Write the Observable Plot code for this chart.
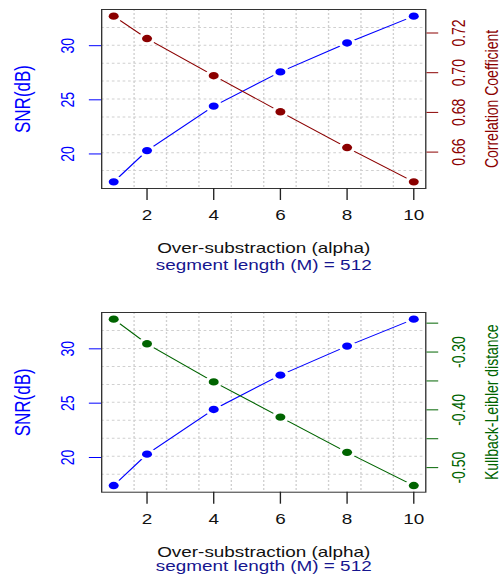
<!DOCTYPE html>
<html><head><meta charset="utf-8">
<script src="https://cdn.jsdelivr.net/npm/d3@7"></script>
<script src="https://cdn.jsdelivr.net/npm/@observablehq/plot@0.6"></script>
<style>html,body{margin:0;padding:0;background:#fff;overflow:hidden;} #c svg{display:block;}</style>
</head><body><div id="c"></div>
<script>
// ---- data ----
const alpha = [1, 2, 4, 6, 8, 10];
const snr = [17.42, 20.31, 24.42, 27.58, 30.25, 32.73];
const corr = [0.7285, 0.7172, 0.6985, 0.6803, 0.6623, 0.6450];
const kl = [-0.2431, -0.2857, -0.3517, -0.4126, -0.4736, -0.5310];
const xTicks = [2, 4, 6, 8, 10];
const snrTicks = [20, 25, 30];
const corrTicks = [0.66, 0.68, 0.70, 0.72];
const corrTickLabels = ["0.66", "0.68", "0.70", "0.72"];
const klTicks = [-0.25, -0.30, -0.35, -0.40, -0.45, -0.50];
const klTickLabels = ["", "-0.30", "", "-0.40", "", "-0.50"];
const xLabel = "Over-substraction (alpha)";
const subLabel = "segment length (M) = 512";
const yLabel = "SNR(dB)";
const corrLabel = "Correlation Coefficient";
const klLabel = "Kullback-Leibler distance";

// ---- layout (internal units; svg is stretched horizontally like the reference) ----
const OUT_W = 501, IN_W = 371, H = 290;
const BLUE = "#0000ff", DARKRED = "#8b0000", DARKGREEN = "#006400", SUB = "#16168f";

function pad(a) { const lo = d3.min(a), hi = d3.max(a), r = hi - lo; return [lo - 0.04 * r, hi + 0.04 * r]; }

function panel({second, secondTicks, secondTickLabels, secondLabel, secondColor, marginTop, marginBottom, subDy}) {
  const xDom = pad(alpha), yDom = pad(snr), eDom = pad(second);
  const toY = v => yDom[0] + (v - eDom[0]) / (eDom[1] - eDom[0]) * (yDom[1] - yDom[0]);
  const s1 = alpha.map((a, i) => ({a, v: snr[i]}));
  const s2 = alpha.map((a, i) => ({a, v: toY(second[i])}));
  const xGrid = d3.range(1, 10).map(k => xDom[0] + k * (xDom[1] - xDom[0]) / 10);
  const yGrid = d3.range(1, 10).map(k => yDom[0] + k * (yDom[1] - yDom[0]) / 10);
  const rTicks = secondTicks.map((t, i) => ({y: toY(t), label: secondTickLabels[i]}));
  const svg = Plot.plot({
    width: IN_W, height: H,
    marginLeft: 74.8, marginRight: 56.2, marginTop, marginBottom,
    style: {fontFamily: "'Liberation Sans', Arial, Helvetica, sans-serif", fontSize: "14px", background: "#fff", overflow: "visible"},
    x: {domain: xDom}, y: {domain: yDom},
    marks: [
      Plot.ruleX(xGrid, {x: d => d, stroke: "#d0d0d0", strokeDasharray: "2,2"}),
      Plot.ruleY(yGrid, {y: d => d, stroke: "#d0d0d0", strokeDasharray: "2,2"}),
      Plot.line(s1, {x: "a", y: "v", stroke: BLUE, strokeWidth: 1}),
      Plot.line(s2, {x: "a", y: "v", stroke: secondColor, strokeWidth: 1}),
      Plot.dot(s1, {x: "a", y: "v", r: 6.5, fill: "#fff"}),
      Plot.dot(s2, {x: "a", y: "v", r: 6.5, fill: "#fff"}),
      Plot.dot(s1, {x: "a", y: "v", r: 3.7, fill: BLUE}),
      Plot.dot(s2, {x: "a", y: "v", r: 3.7, fill: secondColor}),
      Plot.frame({stroke: "#333", strokeWidth: 1}),
      Plot.axisY({anchor: "left", ticks: snrTicks, tickSize: 9, tickFormat: () => "", color: BLUE, label: null}),
      Plot.axisY({anchor: "right", ticks: rTicks.map(d => d.y), tickSize: 8.7, tickFormat: () => "", color: secondColor, label: null}),
      Plot.axisX({anchor: "bottom", ticks: xTicks, tickSize: 12, tickFormat: () => "", color: "#222", label: null}),
      Plot.text(snrTicks, {y: d => d, text: d => String(d), frameAnchor: "left", dx: -25, rotate: -90, textAnchor: "middle", lineAnchor: "middle", fill: BLUE}),
      Plot.text(rTicks, {y: "y", text: "label", frameAnchor: "right", dx: 24.7, rotate: -90, textAnchor: "middle", lineAnchor: "middle", fill: secondColor}),
      Plot.text(xTicks, {x: d => d, text: d => String(d), frameAnchor: "bottom", dy: 27, textAnchor: "middle", lineAnchor: "middle", fill: "#111"}),
      Plot.text([yLabel], {text: d => d, frameAnchor: "left", dx: -58.5, rotate: -90, textAnchor: "middle", lineAnchor: "middle", fill: BLUE, fontSize: 17}),
      Plot.text([secondLabel], {text: d => d, frameAnchor: "right", dx: 48.7, rotate: -90, textAnchor: "middle", lineAnchor: "middle", fill: secondColor}),
      Plot.text([xLabel], {text: d => d, frameAnchor: "bottom", dy: 60, textAnchor: "middle", lineAnchor: "middle", fill: "#111"}),
      Plot.text([subLabel], {text: d => d, frameAnchor: "bottom", dy: subDy, textAnchor: "middle", lineAnchor: "middle", fill: SUB})
    ]
  });
  svg.setAttribute("width", OUT_W);
  svg.setAttribute("height", H);
  svg.setAttribute("viewBox", `0 0 ${IN_W} ${H}`);
  svg.setAttribute("preserveAspectRatio", "none");
  svg.style.width = OUT_W + "px";
  svg.style.height = H + "px";
  svg.style.maxWidth = "none";
  return svg;
}

const c = document.getElementById("c");
c.appendChild(panel({second: corr, secondTicks: corrTicks, secondTickLabels: corrTickLabels, secondLabel: corrLabel, secondColor: DARKRED, marginTop: 9, marginBottom: 102, subDy: 77}));
c.appendChild(panel({second: kl, secondTicks: klTicks, secondTickLabels: klTickLabels, secondLabel: klLabel, secondColor: DARKGREEN, marginTop: 22, marginBottom: 88.3, subDy: 74.5}));
</script>
</body></html>
